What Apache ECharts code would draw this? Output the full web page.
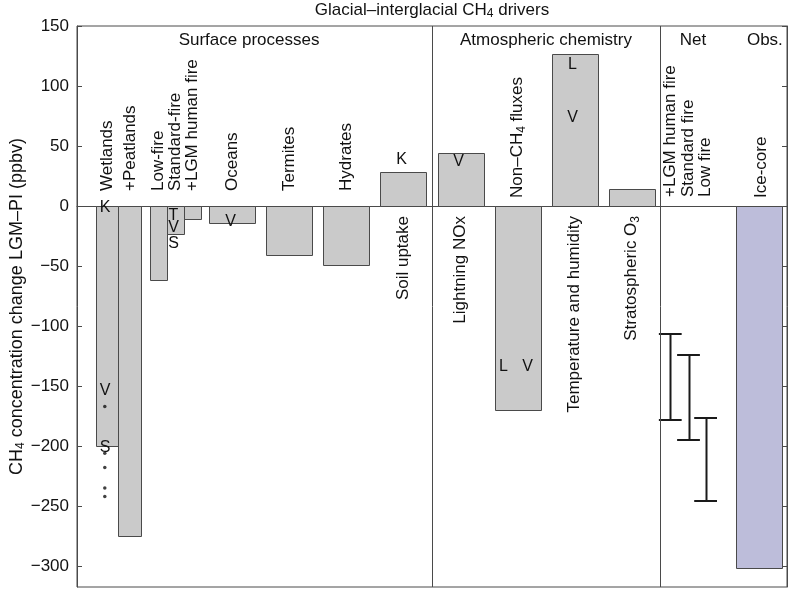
<!DOCTYPE html>
<html><head><meta charset="utf-8">
<script src="https://cdn.jsdelivr.net/npm/echarts@6/dist/echarts.min.js"></script>
<style>html,body{margin:0;padding:0;background:#fff}#c{width:788px;height:593px}</style>
</head><body><div id="c"></div>
<script>
// ---------------- data ----------------
const chartTitle = 'Glacial–interglacial CH4 drivers';
const yAxisTitle = 'CH4 concentration change LGM–PI (ppbv)';
const sectionNames = ['Surface processes', 'Atmospheric chemistry', 'Net', 'Obs.'];
const yTicks = [-300, -250, -200, -150, -100, -50, 0, 50, 100, 150];

const wetlandLabels = ['Wetlands', '+Peatlands'];
const wetlandValues = [-200, -275];
const fireLabels = ['Low-fire', 'Standard-fire', '+LGM human fire'];
const fireValues = [-62, -23, -11];
const driverLabels = ['Oceans', 'Termites', 'Hydrates', 'Soil uptake', 'Lightning NOx', 'Non–CH4 fluxes', 'Temperature and humidity', 'Stratospheric O3'];
const driverValues = [-14, -41, -49, 28, 44, -170, 127, 14];
const driverSection = [0, 0, 0, 0, 1, 1, 1, 1];
const netLabels = ['+LGM human fire', 'Standard fire', 'Low fire'];
const netHigh = [-107, -124, -177];
const netLow = [-178, -195, -246];
const obsLabels = ['Ice-core'];
const obsValues = [-302];

const markerBars = ['Wetlands', 'Wetlands', 'Wetlands', 'Standard-fire', 'Standard-fire', 'Standard-fire', 'Oceans', 'Soil uptake', 'Lightning NOx', 'Non–CH4 fluxes', 'Non–CH4 fluxes', 'Temperature and humidity', 'Temperature and humidity'];
const markerLetters = ['K', 'V', 'S', 'T', 'V', 'S', 'V', 'K', 'V', 'L', 'V', 'L', 'V'];
const markerValues = [-1, -154, -201, -8, -18, -31, -13, 39, 37, -134, -134, 118, 74];
const dotBar = 'Wetlands';
const dotValues = [-167, -206, -218, -235, -242];

// ---------------- layout / style ----------------
const FONT = '"Liberation Sans", Arial, Helvetica, sans-serif';
const FS = 17;
const TXT = '#111';
const EDGE = '#4a4a4a';
const X_MIN = -0.728, X_MAX = 11.728, Y_MIN = -317.5, Y_MAX = 150;
const RICH = { s: { fontSize: 12, fontFamily: FONT, fill: TXT, color: TXT, lineHeight: 12, padding: [8, 0, 0, 0] } };
const fmt = s => s.replace(/(CH|O)(\d)/g, '$1{s|$2}');

// build bar list
const bars = [];
const wW = 0.401;
wetlandLabels.forEach((l, i) => bars.push({ name: l, x: 0 + wW * (i - (wetlandLabels.length - 1) / 2), w: wW, v: wetlandValues[i], sec: 0, fill: '#cacaca' }));
const fW = 0.302;
fireLabels.forEach((l, i) => bars.push({ name: l, x: 1 + fW * (i - (fireLabels.length - 1) / 2), w: fW, v: fireValues[i], sec: 0, fill: '#cacaca' }));
driverLabels.forEach((l, i) => bars.push({ name: l, x: 2 + i, w: 0.807, v: driverValues[i], sec: driverSection[i], fill: '#cacaca' }));
const netSlot = 2 + driverLabels.length;
const obsSlot = netSlot + 1 + 0.24;
obsLabels.forEach((l, i) => bars.push({ name: l, x: obsSlot + i, w: 0.807, v: obsValues[i], sec: 3, fill: '#bdbdda', labelDx: 2 }));
const netOffsets = [-0.32, 0, 0.3];
const byName = {}; bars.forEach(b => byName[b.name] = b);

const crisp = v => Math.round(v) + 0.5;

function textEl(px, py, text, opts) {
  return {
    type: 'text', x: px, y: py, rotation: opts.rot || 0,
    style: Object.assign({
      text: fmt(text), x: 0, y: 0, fontSize: FS, fontFamily: FONT, fill: TXT,
      align: 'center', verticalAlign: 'middle', lineHeight: 19, rich: RICH
    }, opts.style || {})
  };
}

function renderBar(params, api) {
  const b = bars[params.dataIndex];
  const p0 = api.coord([b.x - b.w / 2, 0]);
  const p1 = api.coord([b.x + b.w / 2, b.v]);
  const l = crisp(p0[0]), r = crisp(p1[0]);
  const t = crisp(Math.min(p0[1], p1[1])), bt = crisp(Math.max(p0[1], p1[1]));
  const zeroY = p0[1];
  const cx = (p0[0] + p1[0]) / 2 + (b.labelDx || 0);
  const neg = b.v < 0;
  const gap = neg ? (b.sec === 0 ? 15 : 8) : 10;
  return {
    type: 'group', children: [
      { type: 'rect', shape: { x: l, y: t, width: r - l, height: bt - t }, style: { fill: b.fill, stroke: EDGE, lineWidth: 1 } },
      textEl(cx, neg ? zeroY - gap : zeroY + gap, b.name, { rot: Math.PI / 2, style: { align: neg ? 'left' : 'right' } })
    ]
  };
}

function renderNet(params, api) {
  const i = params.dataIndex;
  const x = netSlot + netOffsets[i];
  const cap = 0.2;
  const top = api.coord([x, netHigh[i]]), bot = api.coord([x, netLow[i]]);
  const xl = api.coord([x - cap, 0])[0], xr = api.coord([x + cap, 0])[0];
  const zeroY = api.coord([x, 0])[1];
  const cx = crisp(top[0]);
  const ls = { stroke: '#1a1a1a', lineWidth: 2 };
  return {
    type: 'group', children: [
      { type: 'line', shape: { x1: cx, y1: top[1], x2: cx, y2: bot[1] }, style: ls },
      { type: 'line', shape: { x1: xl, y1: Math.round(top[1]), x2: xr, y2: Math.round(top[1]) }, style: ls },
      { type: 'line', shape: { x1: xl, y1: Math.round(bot[1]), x2: xr, y2: Math.round(bot[1]) }, style: ls },
      textEl(top[0], zeroY - 9, netLabels[i], { rot: Math.PI / 2, style: { align: 'left' } })
    ]
  };
}

function markerX(i) {
  const b = byName[markerBars[i]];
  const same = [];
  markerBars.forEach((m, j) => { if (m === markerBars[i] && markerValues[j] === markerValues[i]) same.push(j); });
  if (same.length > 1) {
    const k = same.indexOf(i);
    return b.x + 0.42 * (k - (same.length - 1) / 2);
  }
  return b.x;
}

function renderMarker(params, api) {
  const i = params.dataIndex;
  const p = api.coord([markerX(i), markerValues[i]]);
  return textEl(p[0] - 2, p[1], markerLetters[i], { style: { fontSize: 16 } });
}

const secX = [2.29, 7.5, 10.08, 11.34];
function renderHeader(params, api) {
  const i = params.dataIndex;
  const p = api.coord([secX[i], Y_MAX]);
  return textEl(p[0], p[1] + 14, sectionNames[i], {});
}
function renderTitle(params, api) {
  const p = api.coord([(X_MIN + X_MAX) / 2, Y_MAX]);
  const q = api.coord([X_MIN, (Y_MIN + Y_MAX) / 2]);
  return {
    type: 'group', children: [
      textEl(p[0], p[1] - 16, chartTitle, {}),
      textEl(q[0] - 60, q[1], yAxisTitle, { rot: Math.PI / 2, style: { fontSize: 18, lineHeight: 20 } })
    ]
  };
}

const tickFmt = v => String(v).replace('-', '\u2212');

const chart = echarts.init(document.getElementById('c'), null, { renderer: 'canvas' });
chart.setOption({
  animation: false,
  backgroundColor: '#fff',
  grid: { left: 77, top: 26, width: 710, height: 561, show: true, borderColor: EDGE, borderWidth: 1, backgroundColor: 'transparent', outerBoundsMode: 'none', containLabel: false },
  xAxis: {
    type: 'value', min: X_MIN, max: X_MAX,
    axisLine: { show: true, onZero: true, lineStyle: { color: EDGE, width: 1 } },
    axisTick: { show: false }, axisLabel: { show: false }, splitLine: { show: false }
  },
  yAxis: [{
    type: 'value', min: Y_MIN, max: Y_MAX, position: 'left',
    axisLine: { show: true, onZero: false, lineStyle: { color: EDGE } },
    axisTick: { show: true, inside: true, length: 5, customValues: yTicks, lineStyle: { color: EDGE } },
    axisLabel: { customValues: yTicks, fontSize: FS, fontFamily: FONT, color: TXT, margin: 8, formatter: tickFmt },
    splitLine: { show: false }
  }, {
    type: 'value', min: Y_MIN, max: Y_MAX, position: 'right',
    axisLine: { show: true, onZero: false, lineStyle: { color: EDGE } },
    axisTick: { show: true, inside: true, length: 5, customValues: yTicks, lineStyle: { color: EDGE } },
    axisLabel: { show: false }, splitLine: { show: false }
  }],
  series: [
    {
      type: 'custom', name: 'bars', clip: false, renderItem: renderBar,
      data: bars.map(b => [b.x, b.v]),
      markLine: {
        silent: true, symbol: 'none', label: { show: false },
        lineStyle: { color: EDGE, width: 1, type: 'solid' },
        data: [{ xAxis: 5.5 }, { xAxis: netSlot - 0.5 }]
      }
    },
    { type: 'custom', name: 'net', clip: false, renderItem: renderNet, data: netLabels.map((l, i) => [netSlot, netHigh[i]]) },
    { type: 'custom', name: 'markers', clip: false, renderItem: renderMarker, data: markerValues.map((v, i) => [0, v]) },
    {
      type: 'scatter', name: 'dots', symbol: 'circle', symbolSize: 3.5,
      itemStyle: { color: '#111' },
      data: dotValues.map(v => [byName[dotBar].x - 0.04, v])
    },
    { type: 'custom', name: 'headers', clip: false, renderItem: renderHeader, data: sectionNames.map((s, i) => [0, 0]) },
    { type: 'custom', name: 'title', clip: false, renderItem: renderTitle, data: [[0, 0]] }
  ]
});
</script>
</body></html>
